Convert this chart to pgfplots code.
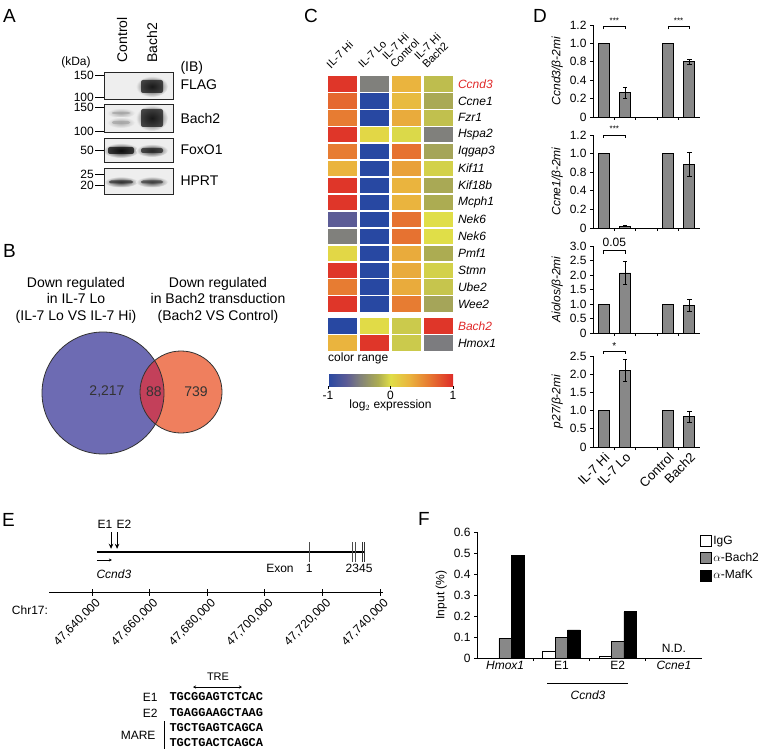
\documentclass[border=0pt]{standalone}
\usepackage{fontspec}
\setmainfont{Liberation Sans}
\newfontfamily\seqfont{Liberation Mono}
\usepackage{pgfplots}
\pgfplotsset{compat=1.18}
\usetikzlibrary{arrows.meta}

\definecolor{bargray}{HTML}{888888}
\definecolor{vblue}{HTML}{6D6BB3}
\definecolor{vsalmon}{HTML}{EF7F5E}
\definecolor{vmix}{HTML}{C3405A}
\definecolor{hired}{HTML}{E02828}
\definecolor{blotbg}{HTML}{EEEEEE}

\newcommand{\fsz}[1]{\fontsize{#1}{#1}\selectfont}
% a blurred blot band: centre x, centre y, half width, half height, darkness
\newcommand{\band}[5]{%
  \shade[inner color=black!#5, outer color=blotbg] (#1,#2) ellipse [x radius=#3pt+3pt, y radius=#4pt+3pt];
  \fill[black!#5, opacity=0.75, rounded corners=2pt] ({#1-#3+2},{#2-#4+1}) rectangle ({#1+#3-2},{#2+#4-1});}

\pgfplotsset{
  colormap={hm}{rgb255(0cm)=(40,72,162); rgb255(3cm)=(92,92,150); rgb255(5cm)=(128,128,124);
    rgb255(8cm)=(172,172,82); rgb255(10cm)=(224,222,72); rgb255(13cm)=(234,180,62);
    rgb255(16cm)=(231,124,50); rgb255(20cm)=(222,44,40)},
  panel/.style={scale only axis, clip=false, anchor=south west,
    tick label style={font=\fsz{12}}, label style={font=\fsz{12}},
    axis line style={line width=0.8pt}, tick style={line width=0.8pt, black},
    /pgf/number format/assume math mode=true},
  qpcr/.style={panel, width=107pt, xmin=-0.5, xmax=4.5, ymin=0,
    axis x line*=bottom, axis y line*=left, tick align=outside, major tick length=3pt,
    xtick={0.5,1.5,2.5,3.5}, xticklabels={},
    ylabel style={font=\fsz{12}\itshape},
    ybar, bar width=11pt},
  qbar/.style={fill=bargray, draw=black, line width=0.7pt,
    /pgfplots/error bars/y dir=both, /pgfplots/error bars/y explicit,
    /pgfplots/error bars/error bar style={line width=0.7pt, black},
    /pgfplots/error bars/error mark options={rotate=90, mark size=2.2pt, line width=0.7pt, black}},
  sqlegend/.style={legend image code/.code={\draw[##1, line width=0.7pt] (0pt,-5.5pt) rectangle (11pt,5.5pt);}},
}

\begin{document}
\begin{tikzpicture}[x=1pt, y=1pt, font=\fsz{12}]
\useasboundingbox (0pt,0pt) rectangle (760pt,-754pt);

\begin{scope}[y=-1pt]
%% ---------------- A: immunoblot
\node[anchor=west, inner sep=0pt, font=\fsz{19}] at (3,16) {A};
\node at (76,62) {(kDa)};
\node[rotate=90, anchor=west, font=\fsz{14}] at (122,66) {Control};
\node[rotate=90, anchor=west, font=\fsz{14}] at (152,66) {Bach2};
\node[anchor=west, font=\fsz{14}] at (177,68) {(IB)};
\foreach \t/\b in {72/99, 104/132, 138/162, 168/194}
  \fill[blotbg] (104,\t) rectangle (173,\b);
\band{152}{86.5}{13}{7.5}{90}
\band{121}{113}{11}{2}{35}
\band{121}{122.5}{11}{2.5}{35}
\band{152}{118}{13}{10}{90}
\band{121}{150.5}{15}{4.5}{95}
\band{152}{150.5}{13}{3.5}{85}
\band{121}{182}{14}{2.5}{80}
\band{152}{182}{13}{2.5}{75}
\foreach \t/\b in {72/99, 104/132, 138/162, 168/194}
  \draw[line width=0.9pt, black!85] (104,\t) rectangle (173,\b);
\foreach \y/\l in {75/150, 97/100, 107/150, 131/100, 150/50, 174/25, 185/20}{
  \draw[line width=0.8pt] (95,\y) -- (104,\y);
  \node[anchor=east, inner sep=1pt] at (95,\y) {\l};}
\node[anchor=west, font=\fsz{14}] at (177,85) {FLAG};
\node[anchor=west, font=\fsz{14}] at (177,118) {Bach2};
\node[anchor=west, font=\fsz{14}] at (177,150) {FoxO1};
\node[anchor=west, font=\fsz{14}] at (177,181) {HPRT};

%% ---------------- B: Venn
\node[anchor=west, inner sep=0pt, font=\fsz{19}] at (3,251) {B};
\node[align=center, font=\fontsize{14}{16.5}\selectfont] at (76,300) {Down regulated\\in IL-7 Lo\\(IL-7 Lo VS IL-7 Hi)};
\node[align=center, font=\fontsize{14}{16.5}\selectfont] at (218,300) {Down regulated\\in Bach2 transduction\\(Bach2 VS Control)};
\fill[vblue] (103,393) circle [radius=61pt];
\fill[vsalmon] (181,392) circle [radius=41pt];
\begin{scope}
  \clip (103,393) circle [radius=61pt];
  \fill[vmix] (181,392) circle [radius=41pt];
\end{scope}
\draw[line width=0.8pt, black!80] (103,393) circle [radius=61pt];
\draw[line width=0.8pt, black!80] (181,392) circle [radius=41pt];
\node[font=\fsz{14}, text=black!80] at (107,392) {2,217};
\node[font=\fsz{14}, text=black!80] at (154,392) {88};
\node[font=\fsz{14}, text=black!80] at (196,392) {739};

%% ---------------- C: labels
\node[anchor=west, inner sep=0pt, font=\fsz{19}] at (304,16) {C};
\node[rotate=45, anchor=south west, font=\fsz{11}] at (331,74) {IL-7 Hi};
\node[rotate=45, anchor=south west, font=\fsz{11}] at (363,74) {IL-7 Lo};
\node[rotate=45, anchor=south west, align=left, font=\fontsize{11}{11.5}\selectfont] at (395,74) {IL-7 Hi\\Control};
\node[rotate=45, anchor=south west, align=left, font=\fontsize{11}{11.5}\selectfont] at (427,74) {IL-7 Hi\\Bach2};
\node[anchor=west, inner sep=0pt] at (328,358) {color range};

%% ---------------- D, E, F letters and free text
\node[anchor=west, inner sep=0pt, font=\fsz{19}] at (533,16) {D};
\node[anchor=west, inner sep=0pt, font=\fsz{19}] at (2,520) {E};
\node[anchor=west, inner sep=0pt, font=\fsz{19}] at (418,519) {F};
\node at (30,610) {Chr17:};
\node[font=\fsz{11}] at (218,677) {TRE};
\draw[{Stealth[length=3pt,width=3pt]}-{Stealth[length=3pt,width=3pt]}, line width=0.6pt] (193,687) -- (242,687);
\node[anchor=east] at (161,697) {E1};
\node[anchor=west, font=\seqfont\bfseries\fsz{12}] at (166,697) {TGCGGAGTCTCAC};
\node[anchor=east] at (161,713) {E2};
\node[anchor=west, font=\seqfont\bfseries\fsz{12}] at (166,713) {TGAGGAAGCTAAG};
\node[anchor=east] at (159,735) {MARE};
\draw[line width=0.8pt] (164,721) -- (164,749);
\node[anchor=west, font=\seqfont\bfseries\fsz{12}] at (166,728) {TGCTGAGTCAGCA};
\node[anchor=west, font=\seqfont\bfseries\fsz{12}] at (166,743) {TGCTGACTCAGCA};
\draw[line width=0.6pt] (547,683) -- (628,683);
\node[font=\fsz{12}\itshape] at (588,695) {Ccnd3};
\end{scope}

%% ---------------- C: heatmap (log2 expression per cell)
\begin{axis}[panel, at={(326.5pt,-351.5pt)}, width=128pt, height=276pt,
  xmin=-0.5, xmax=3.5, ymin=-0.5, ymax=15.8, y dir=reverse, hide axis,
  colormap name=hm, point meta min=-1, point meta max=1,
  colorbar horizontal,
  colorbar style={at={(parent axis.south west)}, anchor=north west, xshift=1.5pt, yshift=-14pt,
    scale only axis, width=125pt, height=12pt,
    xtick={-1,0,1}, xticklabels={-1,0,1}, tick pos=left, tick align=outside,
    major tick length=3pt, axis line style={draw=none}, tick style={black, line width=0.8pt},
    tick label style={font=\fsz{12}}, xticklabel style={yshift=1pt},
    xlabel={log$_2$ expression}, xlabel style={font=\fsz{12}, yshift=7pt}}]
\addplot[scatter, only marks, point meta=explicit, mark=square*, mark size=7.2pt,
  mark options={xscale=2.01, line width=0pt},
  scatter/use mapped color={draw=mapped color, fill=mapped color}] coordinates {
 (0,0) [0.95]  (1,0) [-0.5] (2,0) [0.3]  (3,0) [-0.13]
 (0,1) [0.7]   (1,1) [-1]   (2,1) [0.25] (3,1) [-0.22]
 (0,2) [0.6]   (1,2) [-1]   (2,2) [0.35] (3,2) [-0.12]
 (0,3) [0.95]  (1,3) [0.05] (2,3) [-0.02] (3,3) [-0.5]
 (0,4) [0.6]   (1,4) [-1]   (2,4) [0.65] (3,4) [-0.25]
 (0,5) [0.3]   (1,5) [-1]   (2,5) [0.4]  (3,5) [-0.05]
 (0,6) [0.95]  (1,6) [-1]   (2,6) [0.3]  (3,6) [-0.22]
 (0,7) [0.95]  (1,7) [-1]   (2,7) [0.3]  (3,7) [-0.2]
 (0,8) [-0.7]  (1,8) [-1]   (2,8) [0.65] (3,8) [0.0]
 (0,9) [-0.5]  (1,9) [-1]   (2,9) [0.65] (3,9) [0.0]
 (0,10) [0.05] (1,10) [-1]  (2,10) [0.35] (3,10) [-0.2]
 (0,11) [0.95] (1,11) [-1]  (2,11) [0.35] (3,11) [-0.05]
 (0,12) [0.6]  (1,12) [-1]  (2,12) [0.35] (3,12) [-0.1]
 (0,13) [0.95] (1,13) [-1]  (2,13) [0.6]  (3,13) [-0.25]
 (0,14.3) [-1]  (1,14.3) [0.02] (2,14.3) [-0.08] (3,14.3) [0.95]
 (0,15.3) [0.3] (1,15.3) [0.95] (2,15.3) [-0.08] (3,15.3) [-0.52]
};
\foreach \g/\r in {Ccne1/1, Fzr1/2, Hspa2/3, Iqgap3/4, Kif11/5, Kif18b/6, Mcph1/7, Nek6/8, Nek6/9, Pmf1/10, Stmn/11, Ube2/12, Wee2/13, Hmox1/15.3}{
  \edef\tmp{\noexpand\node[anchor=west, font=\noexpand\fsz{12}\noexpand\itshape] at (axis cs:3.5,\r) {\g};}\tmp}
\node[anchor=west, font=\fsz{12}\itshape, text=hired] at (axis cs:3.5,0) {Ccnd3};
\node[anchor=west, font=\fsz{12}\itshape, text=hired] at (axis cs:3.5,14.3) {Bach2};
\end{axis}

%% ---------------- D: qPCR
\begin{axis}[qpcr, at={(593pt,-117pt)}, height=92pt, ymax=1.25,
  ytick={0,0.25,0.5,0.75,1,1.25}, yticklabels={0,0.2,0.4,0.8,1.0,1.2},
  ylabel={Ccnd3/β-2mi}]
\addplot[qbar] coordinates {(0,1) +- (0,0) (1,0.33) +- (0,0.07) (3,1) +- (0,0) (4,0.75) +- (0,0.035)};
\draw[line width=0.6pt] (axis cs:0,1.19) -- (axis cs:0,1.23) -- (axis cs:1,1.23) -- (axis cs:1,1.19);
\draw[line width=0.6pt] (axis cs:3,1.19) -- (axis cs:3,1.23) -- (axis cs:4,1.23) -- (axis cs:4,1.19);
\node[font=\fsz{8}] at (axis cs:0.5,1.31) {***};
\node[font=\fsz{8}] at (axis cs:3.5,1.31) {***};
\end{axis}
\begin{axis}[qpcr, at={(593pt,-228pt)}, height=93pt, ymax=1.25,
  ytick={0,0.25,0.5,0.75,1,1.25}, yticklabels={0,0.2,0.4,0.8,1.0,1.2},
  ylabel={Ccne1/β-2mi}]
\addplot[qbar] coordinates {(0,1) +- (0,0) (1,0.025) +- (0,0.005) (3,1) +- (0,0) (4,0.86) +- (0,0.16)};
\draw[line width=0.6pt] (axis cs:0,1.21) -- (axis cs:0,1.25) -- (axis cs:1,1.25) -- (axis cs:1,1.21);
\node[font=\fsz{8}] at (axis cs:0.5,1.33) {***};
\end{axis}
\begin{axis}[qpcr, at={(593pt,-333pt)}, height=87pt, ymax=3,
  ytick={0,0.5,1,1.5,2,2.5,3}, yticklabels={0,0.5,1.0,1.5,2.0,2.5,3.0},
  ylabel={Aiolos/β-2mi}]
\addplot[qbar] coordinates {(0,1) +- (0,0) (1,2.07) +- (0,0.4) (3,1) +- (0,0) (4,0.95) +- (0,0.2)};
\draw[line width=0.6pt] (axis cs:0,2.72) -- (axis cs:0,2.84) -- (axis cs:1,2.84) -- (axis cs:1,2.72);
\node[font=\fsz{12}] at (axis cs:0.5,3.12) {0.05};
\end{axis}
\begin{axis}[qpcr, at={(593pt,-447pt)}, height=91pt, ymax=2.5,
  ytick={0,0.5,1,1.5,2,2.5}, yticklabels={0,0.5,1.0,1.5,2.0,2.5},
  ylabel={p27/β-2mi},
  extra x ticks={0,1,3,4}, extra x tick labels={IL-7 Hi,IL-7 Lo,Control,Bach2},
  extra x tick style={major tick length=0pt, xticklabel style={rotate=45, anchor=north east, font=\fsz{13}}}]
\addplot[qbar] coordinates {(0,1) +- (0,0) (1,2.1) +- (0,0.31) (3,1) +- (0,0) (4,0.83) +- (0,0.16)};
\draw[line width=0.6pt] (axis cs:0,2.56) -- (axis cs:0,2.64) -- (axis cs:1,2.64) -- (axis cs:1,2.56);
\node[font=\fsz{10}] at (axis cs:0.5,2.76) {*};
\end{axis}

%% ---------------- E: Ccnd3 locus (kb above 47,600,000)
\begin{axis}[panel, at={(49pt,-592pt)}, width=334pt, height=60pt,
  xmin=25.07, xmax=141, ymin=0, ymax=1,
  axis x line*=bottom, axis y line=none,
  xtick={40,60,80,100,120,140},
  xticklabels={{47,640,000},{47,660,000},{47,680,000},{47,700,000},{47,720,000},{47,740,000}},
  tick align=center, major tick length=7pt,
  xticklabel style={rotate=45, anchor=north east, font=\fsz{12}, xshift=4pt}]
\draw[line width=1.3pt] (axis cs:41.7,0.667) -- (axis cs:134.8,0.667);
\draw[line width=0.6pt, black!70] (axis cs:115.35,0.833) -- (axis cs:115.35,0.5);
\draw[line width=0.6pt, black!70] (axis cs:130.3,0.833) -- (axis cs:130.3,0.5);
\draw[line width=0.6pt, black!70] (axis cs:131.3,0.833) -- (axis cs:131.3,0.5);
\draw[line width=0.8pt, black!80] (axis cs:133.75,0.833) -- (axis cs:133.75,0.5);
\draw[line width=1.8pt, black!80] (axis cs:134.6,0.833) -- (axis cs:134.6,0.5);
\draw[-{Stealth[length=5pt,width=4.5pt]}, line width=1pt] (axis cs:46.6,1.0) -- (axis cs:46.6,0.72);
\draw[-{Stealth[length=5pt,width=4.5pt]}, line width=1pt] (axis cs:48.7,1.0) -- (axis cs:48.7,0.72);
\node at (axis cs:44.5,1.12) {E1};
\node at (axis cs:51.1,1.12) {E2};
\draw[-{Stealth[length=3pt,width=3pt]}, line width=0.6pt] (axis cs:41.7,0.533) -- (axis cs:46.9,0.533);
\node[font=\fsz{12}\itshape] at (axis cs:47.6,0.3) {Ccnd3};
\node[anchor=east] at (axis cs:111.2,0.4) {Exon};
\node at (axis cs:115.35,0.4) {1};
\node at (axis cs:132.7,0.4) {2345};
\end{axis}

%% ---------------- F: ChIP
\begin{axis}[panel, at={(477pt,-658pt)}, width=225pt, height=126pt,
  xmin=-0.5, xmax=3.5, ymin=0, ymax=0.6,
  axis x line*=bottom, axis y line*=left, tick align=outside, major tick length=3pt,
  ytick={0,0.1,0.2,0.3,0.4,0.5,0.6}, yticklabels={0,0.1,0.2,0.3,0.4,0.5,0.6},
  xtick={0.5,1.5,2.5}, xticklabels={},
  extra x ticks={0,1,2,3}, extra x tick labels={\textit{Hmox1},E1,E2,\textit{Ccne1}},
  extra x tick style={major tick length=0pt},
  ylabel={Input (\%)},
  ybar=0pt, bar width=12.5pt,
  every axis plot post/.append style={sqlegend},
  legend style={at={(0.975,1.0)}, anchor=north west, draw=none, fill=none, font=\fsz{12}, row sep=3pt},
  legend cell align=left]
\addplot[fill=white, draw=black, line width=0.7pt] coordinates {(1,0.034) (2,0.007)};
\addplot[fill=bargray, draw=black, line width=0.7pt] coordinates {(0,0.094) (1,0.098) (2,0.079)};
\addplot[fill=black, draw=black, line width=0.7pt] coordinates {(0,0.49) (1,0.134) (2,0.22)};
\legend{IgG, $\alpha$-Bach2, $\alpha$-MafK}
\node at (axis cs:3,0.045) {N.D.};
\end{axis}

\end{tikzpicture}
\end{document}
